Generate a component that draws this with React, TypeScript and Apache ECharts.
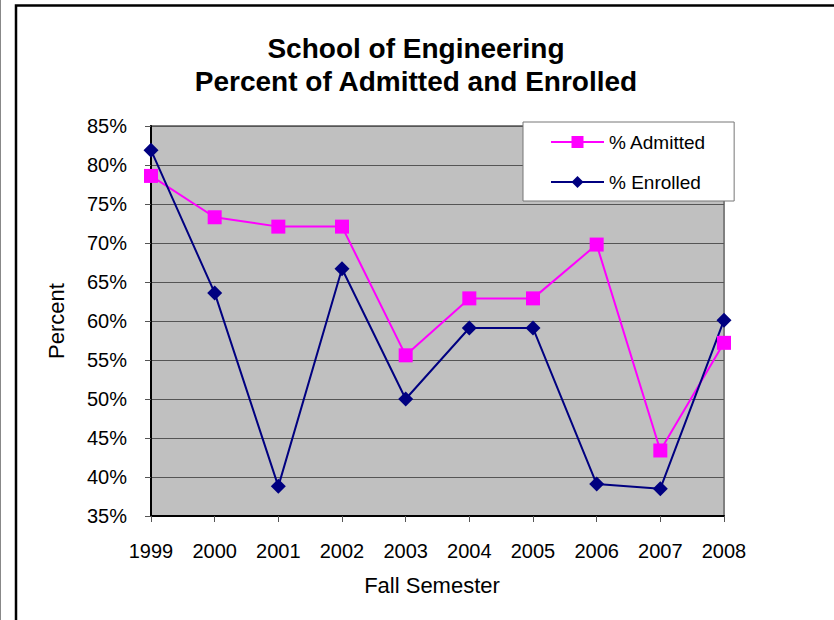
import React, { useEffect, useRef } from "react";
import * as echarts from "echarts";

const years = ["1999", "2000", "2001", "2002", "2003", "2004", "2005", "2006", "2007", "2008"];
const admitted = [78.6, 73.3, 72.1, 72.1, 55.6, 62.9, 62.9, 69.8, 43.4, 57.2];
const enrolled = [81.9, 63.6, 38.8, 66.7, 50.0, 59.1, 59.1, 39.1, 38.5, 60.1];
const seriesNames = ["% Admitted", "% Enrolled"];
const titleText = "School of Engineering\nPercent of Admitted and Enrolled";

const FONT = "'Liberation Sans', Arial, sans-serif";

export default function App() {
  const ref = useRef<HTMLDivElement>(null);
  useEffect(() => {
    if (!ref.current) return;
    const chart = echarts.init(ref.current, null, { renderer: "svg" });
    chart.setOption({
      animation: false,
      backgroundColor: "#ffffff",
      textStyle: { fontFamily: FONT },
      title: {
        text: titleText,
        left: 416,
        top: 32,
        textAlign: "center",
        padding: 0,
        textStyle: { fontFamily: FONT, fontSize: 28, fontWeight: "bold", color: "#000", lineHeight: 33 },
      },
      legend: {
        orient: "vertical",
        left: 523,
        top: 122,
        padding: [10, 28, 9, 27],
        itemWidth: 53,
        itemHeight: 15,
        itemGap: 20,
        backgroundColor: "#ffffff",
        borderColor: "#777777",
        borderWidth: 1,
        borderRadius: 0,
        textStyle: { fontFamily: FONT, fontSize: 19, color: "#000", lineHeight: 20 },
        data: seriesNames,
      },
      graphic: [
        { type: "rect", silent: true, shape: { x: 16, y: 5.5, width: 900, height: 700 }, style: { fill: "none", stroke: "#000", lineWidth: 2.5 } },
        { type: "line", silent: true, shape: { x1: 0.5, y1: 0, x2: 0.5, y2: 620 }, style: { stroke: "#888", lineWidth: 1 } },
      ],
      grid: {
        left: 151,
        right: 110,
        top: 126,
        bottom: 104,
        show: true,
        backgroundColor: "#C0C0C0",
        borderColor: "#808080",
        borderWidth: 2,
        containLabel: false,
      },
      xAxis: {
        type: "category",
        data: years,
        boundaryGap: false,
        name: "Fall Semester",
        nameLocation: "middle",
        nameGap: 58,
        nameTextStyle: { fontFamily: FONT, fontSize: 22, color: "#000", padding: [0, 11, 0, 0] },
        axisLine: { lineStyle: { color: "#000", width: 2 } },
        axisTick: { show: true, length: 6, alignWithLabel: true, lineStyle: { color: "#555" } },
        axisLabel: { fontFamily: FONT, fontSize: 20, color: "#000", margin: 25, interval: 0 },
        splitLine: { show: false },
      },
      yAxis: {
        type: "value",
        min: 35,
        max: 85,
        interval: 5,
        name: "Percent",
        nameLocation: "middle",
        nameGap: 84,
        nameTextStyle: { fontFamily: FONT, fontSize: 22, color: "#000" },
        axisLine: { show: true, lineStyle: { color: "#000", width: 2 } },
        axisTick: { show: true, length: 6, lineStyle: { color: "#555" } },
        axisLabel: { fontFamily: FONT, fontSize: 20, color: "#000", margin: 24, formatter: "{value}%" },
        splitLine: { show: true, lineStyle: { color: "#555", width: 1 } },
      },
      series: [
        {
          name: seriesNames[0],
          type: "line",
          data: admitted,
          symbol: "rect",
          symbolSize: 14,
          lineStyle: { color: "#FF00FF", width: 2 },
          itemStyle: { color: "#FF00FF" },
        },
        {
          name: seriesNames[1],
          type: "line",
          data: enrolled,
          symbol: "diamond",
          symbolSize: 15,
          lineStyle: { color: "#000080", width: 2 },
          itemStyle: { color: "#000080" },
        },
      ],
    });
    return () => chart.dispose();
  }, []);
  return <div ref={ref} style={{ position: "fixed", left: 0, top: 0, width: 834, height: 620 }} />;
}
